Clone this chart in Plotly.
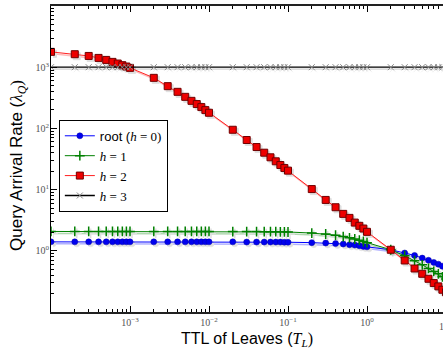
import plotly.graph_objects as go

# TTL of leaves (x axis)
ttl = [1e-4, 2e-4, 3e-4, 4e-4, 5e-4, 6e-4, 7e-4, 8e-4, 9e-4,
       1e-3, 2e-3, 3e-3, 4e-3, 5e-3, 6e-3, 7e-3, 8e-3, 9e-3,
       1e-2, 2e-2, 3e-2, 4e-2, 5e-2, 6e-2, 7e-2, 8e-2, 9e-2,
       1e-1, 2e-1, 3e-1, 4e-1, 5e-1, 6e-1, 7e-1, 8e-1, 9e-1,
       1e0, 2e0, 3e0, 4e0, 5e0, 6e0, 7e0, 8e0, 9e0, 1e1]

root_h0 = [1.40, 1.40, 1.40, 1.40, 1.40, 1.40, 1.40, 1.40, 1.40,
           1.40, 1.40, 1.40, 1.40, 1.40, 1.40, 1.40, 1.40, 1.40,
           1.40, 1.40, 1.39, 1.39, 1.39, 1.39, 1.39, 1.39, 1.38,
           1.38, 1.36, 1.34, 1.31, 1.29, 1.26, 1.24, 1.21, 1.18,
           1.16, 1.04, 0.92, 0.84, 0.76, 0.70, 0.645, 0.605, 0.56, 0.53]

h1 = [2.07, 2.07, 2.07, 2.07, 2.07, 2.07, 2.07, 2.07, 2.07,
      2.07, 2.07, 2.07, 2.07, 2.07, 2.07, 2.07, 2.07, 2.07,
      2.07, 2.06, 2.06, 2.06, 2.05, 2.05, 2.05, 2.04, 2.04,
      2.03, 1.95, 1.88, 1.80, 1.71, 1.63, 1.56, 1.49, 1.42,
      1.36, 1.04, 0.83, 0.69, 0.59, 0.515, 0.46, 0.42, 0.375, 0.345]

h2 = [1780, 1630, 1527, 1418, 1315, 1221, 1148, 1079, 1026,
      975, 670, 490, 396, 328, 282, 250, 223, 199,
      180, 95, 64.6, 49.6, 40.1, 33.7, 29.0, 25.2, 22.5,
      20.4, 10.2, 6.78, 5.15, 4.01, 3.45, 2.89, 2.56, 2.31,
      2.04, 1.04, 0.695, 0.514, 0.421, 0.349, 0.297, 0.262, 0.231, 0.21]

h3 = [1000] * len(ttl)

series_names = ["root (<span style='font-family:Liberation Serif'><i>h</i> = 0)</span>",
                "<span style='font-family:Liberation Serif'><i>h</i> = 1</span>",
                "<span style='font-family:Liberation Serif'><i>h</i> = 2</span>",
                "<span style='font-family:Liberation Serif'><i>h</i> = 3</span>"]

y_ticks = [1, 10, 100, 1000, 10000]
y_ticktext = ["10<sup>0</sup>", "10<sup>1</sup>", "10<sup>2</sup>", "10<sup>3</sup>", "10<sup>4</sup>"]
x_ticks = [1e-3, 1e-2, 1e-1, 1e0]
x_ticktext = ["10<sup>−3</sup>", "10<sup>−2</sup>", "10<sup>−1</sup>", "10<sup>0</sup>"]

W, H = 443, 353
ML, MR, MT, MB = 51, 0, 6, 41
PW, PH = W - ML - MR, H - MT - MB
XR = [-4, 0.962]
YR = [-1, 4]
SH = 2  # shadow offset in px

styles = [
    dict(line=dict(color="#0000ff", width=1),
         marker=dict(symbol="circle", size=6, color="#0000ee", line=dict(color="#0000aa", width=0.5))),
    dict(line=dict(color="#008000", width=1),
         marker=dict(symbol="cross-thin", size=7, color="#008000", line=dict(color="#008000", width=1.5))),
    dict(line=dict(color="#ff2020", width=1),
         marker=dict(symbol="square", size=7, color="#ee0000", line=dict(color="#700000", width=1))),
    dict(line=dict(color="#000000", width=1.3),
         marker=dict(symbol="x-thin", size=6, color="#888888", line=dict(color="#888888", width=1))),
]
shadow_opacity = [0.3, 0.3, 0.3, 0.12]
datas = [root_h0, h1, h2, h3]

fig = go.Figure()

# shadows (drawn first, on a slightly shifted, hidden subplot)
for d, st, op in zip(datas, styles, shadow_opacity):
    fig.add_trace(go.Scatter(
        x=ttl, y=d, mode="lines+markers", xaxis="x", yaxis="y",
        line=dict(color=st["line"]["color"], width=st["line"]["width"] + 0.5),
        marker=dict(symbol=st["marker"]["symbol"], size=st["marker"]["size"],
                    color="#999999", line=dict(color="#999999", width=st["marker"]["line"]["width"])),
        opacity=op, showlegend=False, hoverinfo="skip"))

for d, st, nm in zip(datas, styles, series_names):
    fig.add_trace(go.Scatter(
        x=ttl, y=d, mode="lines+markers", name=nm, xaxis="x2", yaxis="y2",
        line=st["line"], marker=st["marker"]))

dx = SH / PW
dy = SH / PH
fig.update_layout(
    width=W, height=H,
    margin=dict(l=ML, r=MR, t=MT, b=MB),
    paper_bgcolor="white", plot_bgcolor="rgba(0,0,0,0)",
    showlegend=True,
    legend=dict(x=0.02, y=0.628, xanchor="left", yanchor="top",
                bgcolor="white", bordercolor="black", borderwidth=1,
                font=dict(family="Liberation Sans", size=13, color="black"),
                tracegroupgap=0, itemwidth=30),
    xaxis=dict(type="log", domain=[dx, 1], range=[XR[0], XR[1] - SH / (PW / (XR[1] - XR[0]))],
               visible=False, anchor="y"),
    yaxis=dict(type="log", domain=[0, 1 - dy], range=[YR[0] + SH / (PH / (YR[1] - YR[0])), YR[1]],
               visible=False, anchor="x"),
    xaxis2=dict(type="log", domain=[0, 1], range=XR, anchor="y2",
                showline=True, linecolor="#222222", linewidth=1.5, mirror="ticks",
                ticks="inside", ticklen=6, tickwidth=1, tickcolor="black",
                tickvals=x_ticks, ticktext=x_ticktext,
                minor=dict(ticks="inside", ticklen=3, tickcolor="black", dtick="D1"),
                tickfont=dict(family="Liberation Serif", size=10, color="#555555"),
                showgrid=False, zeroline=False,
                title=dict(text="TTL of Leaves (<span style='font-family:Liberation Serif'><i>T<sub>L</sub></i>)</span>",
                           font=dict(family="Liberation Sans", size=16, color="black"), standoff=6)),
    yaxis2=dict(type="log", domain=[0, 1], range=YR, anchor="x2",
                showline=True, linecolor="black", linewidth=1, mirror=False,
                ticks="inside", ticklen=6, tickwidth=1, tickcolor="black",
                tickvals=y_ticks, ticktext=y_ticktext, ticklabelstandoff=-1,
                minor=dict(ticks="inside", ticklen=3, tickcolor="black", dtick="D1"),
                tickfont=dict(family="Liberation Serif", size=10, color="#555555"),
                showgrid=False, zeroline=False),
)

# y-axis title
fig.add_annotation(text="Query Arrival Rate (<span style='font-family:Liberation Serif'><i>λ<sub>Q</sub></i>)</span>",
                   xref="paper", yref="paper", x=-(ML - 18) / PW, y=(PH - 160) / PH,
                   xanchor="center", yanchor="middle", textangle=-90, showarrow=False,
                   font=dict(family="Liberation Sans", size=17, color="black"))

# partially visible 10^1 label at the right edge (its tick lies just beyond the window)
fig.add_annotation(text="10<sup>1</sup>", xref="paper", yref="paper",
                   x=1 + 3 / PW, y=0, yshift=-6, xanchor="center", yanchor="top",
                   showarrow=False, font=dict(family="Liberation Serif", size=10, color="#555555"))

fig.write_html("out.html")
